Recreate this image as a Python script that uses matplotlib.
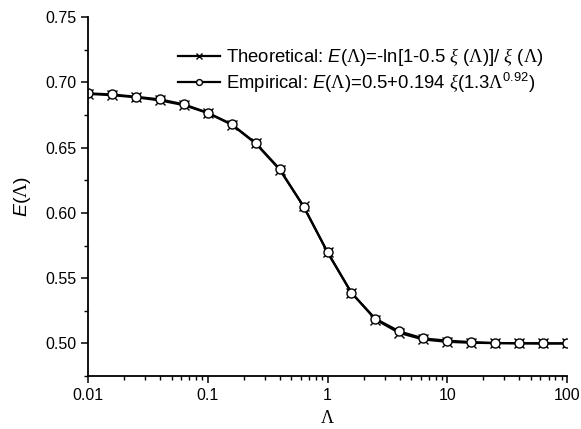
import numpy as np
import matplotlib
matplotlib.use("Agg")
import matplotlib.pyplot as plt
from matplotlib.ticker import FixedLocator, FixedFormatter, LogLocator, NullFormatter, MultipleLocator

plt.rcParams['font.family'] = ['Liberation Sans', 'DejaVu Sans']
plt.rcParams['mathtext.fontset'] = 'custom'
plt.rcParams['mathtext.rm'] = 'Liberation Serif'
plt.rcParams['mathtext.it'] = 'Liberation Sans:italic'
plt.rcParams['mathtext.sf'] = 'Liberation Sans'
plt.rcParams['mathtext.cal'] = 'Liberation Serif:italic'

# data
lam = [0.01, 0.0158, 0.0251, 0.0398, 0.0631, 0.1, 0.158, 0.251, 0.398, 0.631,
       1.0, 1.58, 2.51, 3.98, 6.31, 10, 15.8, 25.1, 39.8, 63.1, 100]
E_theo = [0.6912, 0.6902, 0.6886, 0.6862, 0.6826, 0.6765, 0.6677, 0.6532, 0.6332, 0.6050,
          0.5700, 0.5390, 0.5183, 0.5080, 0.5030, 0.5012, 0.5005, 0.5002, 0.5001, 0.5000, 0.5000]
E_emp = [0.6916, 0.6908, 0.6890, 0.6870, 0.6832, 0.6768, 0.6680, 0.6536, 0.6337, 0.6049,
         0.5697, 0.5388, 0.5189, 0.5092, 0.5038, 0.5021, 0.5010, 0.5003, 0.5001, 0.5000, 0.5000]
xticks = [0.01, 0.1, 1, 10, 100]
xticklabels = ['0.01', '0.1', '1', '10', '100']

lab_theo = r'Theoretical: $E$($\Lambda$)=-ln[1-0.5 $\mathcal{\xi}$ ($\Lambda$)]/ $\mathcal{\xi}$ ($\Lambda$)'
lab_emp = r'Empirical: $E$($\Lambda$)=0.5+0.194 $\mathcal{\xi}$(1.3$\Lambda^{\mathsf{0.92}}$)'

fig = plt.figure(figsize=(5.81, 4.29), dpi=100)
ax = fig.add_axes([0.1515, 0.1235, 0.8245, 0.8365])

ax.plot(lam, E_theo, '-x', color='black', lw=1.6, ms=7, mew=1.0, label=lab_theo)
ax.plot(lam, E_emp, '-o', color='black', lw=1.6, ms=6.5, mew=1.0, mfc='white', label=lab_emp)

ax.set_xscale('log')
ax.set_xlim(0.01, 100)
ax.set_ylim(0.475, 0.75)
ax.xaxis.set_major_locator(FixedLocator(xticks))
ax.xaxis.set_major_formatter(FixedFormatter(xticklabels))
ax.xaxis.set_minor_locator(LogLocator(base=10, subs=np.arange(2, 10)))
ax.xaxis.set_minor_formatter(NullFormatter())
ax.yaxis.set_major_locator(MultipleLocator(0.05))
ax.yaxis.set_minor_locator(MultipleLocator(0.025))
ax.yaxis.set_major_formatter(plt.FormatStrFormatter('%.2f'))

for s in ['top', 'right']:
    ax.spines[s].set_visible(False)
for s in ['left', 'bottom']:
    ax.spines[s].set_linewidth(1.3)
ax.tick_params(which='major', direction='out', length=5, width=1.1, labelsize=11.5)
ax.tick_params(which='minor', direction='out', length=3, width=1.0)

ax.set_xlabel(r'$\Lambda$', fontsize=13, labelpad=5)
ax.set_ylabel(r'$E$($\Lambda$)', fontsize=14, labelpad=9)

ax.legend(loc='upper left', bbox_to_anchor=(178 / 581, 1 - 46 / 429), bbox_transform=fig.transFigure,
          frameon=False, fontsize=13.3, handlelength=2.3, handletextpad=0.3, markerscale=0.65,
          borderpad=0, borderaxespad=0, labelspacing=0.15)

fig.savefig('out.png', dpi=100)
